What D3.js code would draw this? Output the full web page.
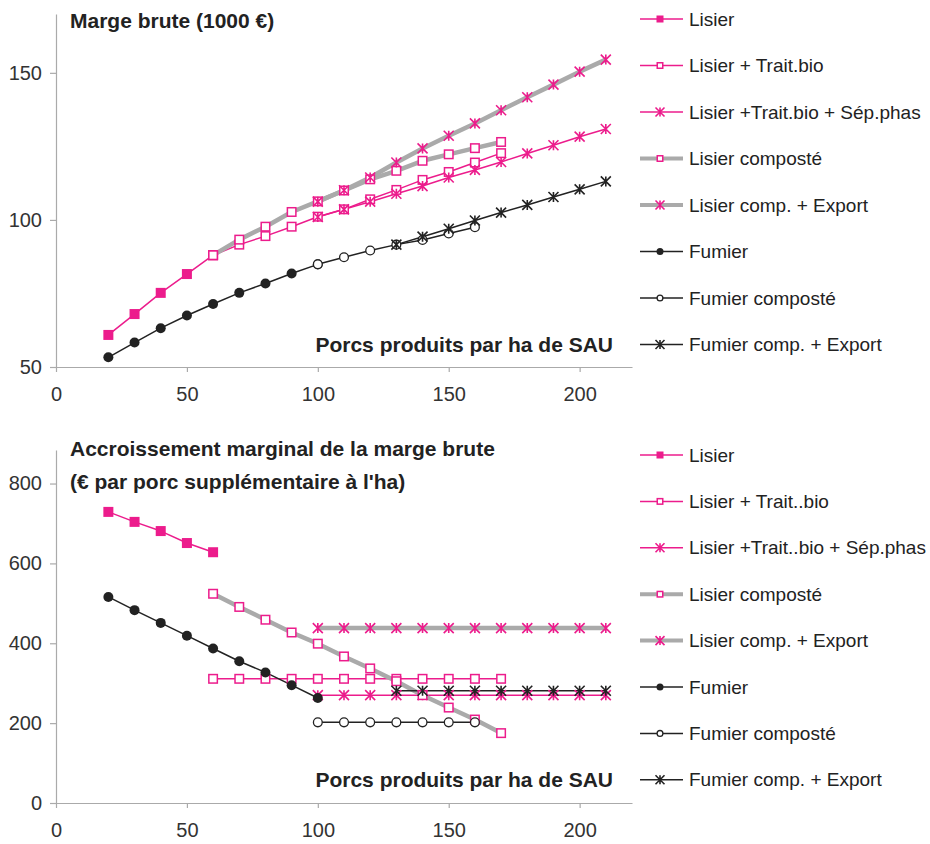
<!DOCTYPE html>
<html><head><meta charset="utf-8">
<script src="https://cdn.jsdelivr.net/npm/d3@7"></script>
<style>body{margin:0;background:#fff} svg{display:block} text{font-family:"Liberation Sans",Arial,sans-serif}</style>
</head><body><svg id="c" width="930" height="844"></svg>
<script>
// ---------- DATA ----------
const xTicks = [0, 50, 100, 150, 200];
const yTicksTop = [50, 100, 150];
const yTicksBottom = [0, 200, 400, 600, 800];

const legendTop = ["Lisier", "Lisier + Trait.bio", "Lisier +Trait.bio + Sép.phas", "Lisier composté",
  "Lisier comp. + Export", "Fumier", "Fumier composté", "Fumier comp. + Export"];
const legendBottom = ["Lisier", "Lisier + Trait..bio", "Lisier +Trait..bio + Sép.phas", "Lisier composté",
  "Lisier comp. + Export", "Fumier", "Fumier composté", "Fumier comp. + Export"];

const xLisier = [20, 30, 40, 50, 60];
const xTraitBio = [60, 70, 80, 90, 100, 110, 120, 130, 140, 150, 160, 170];
const xSepPhas = [100, 110, 120, 130, 140, 150, 160, 170, 180, 190, 200, 210];
const xComposte = [60, 70, 80, 90, 100, 110, 120, 130, 140, 150, 160, 170];
const xCompExport = [100, 110, 120, 130, 140, 150, 160, 170, 180, 190, 200, 210];
const xFumier = [20, 30, 40, 50, 60, 70, 80, 90, 100];
const xFumierComp = [100, 110, 120, 130, 140, 150, 160];
const xFumierExport = [130, 140, 150, 160, 170, 180, 190, 200, 210];

// Marge brute (1000 €)
const mbLisier = [60.9, 68.0, 75.2, 81.6, 88.0];
const mbTraitBio = [88.0, 91.6, 94.5, 97.7, 101.1, 103.6, 107.0, 110.2, 113.6, 116.3, 119.5, 122.7];
const mbSepPhas = [101.0, 103.6, 106.2, 108.9, 111.5, 114.4, 117.0, 119.7, 122.6, 125.4, 128.3, 130.9];
const mbComposte = [88.0, 93.3, 97.7, 102.7, 106.3, 110.0, 113.8, 116.7, 120.1, 122.3, 124.4, 126.5];
const mbCompExport = [106.2, 110.1, 114.4, 119.5, 124.3, 128.6, 132.8, 137.3, 141.7, 146.0, 150.4, 154.5];
const mbFumier = [53.3, 58.3, 63.2, 67.5, 71.4, 75.2, 78.4, 81.8, 84.9];
const mbFumierComp = [84.9, 87.3, 89.6, 91.6, 93.2, 95.4, 97.5];
const mbFumierExport = [91.6, 94.3, 97.0, 99.8, 102.5, 105.1, 107.8, 110.4, 113.1];

// Accroissement marginal (€ par porc supplémentaire à l'ha)
const amLisier = [729, 704, 681, 651, 628];
const amTraitBio = [311, 311, 311, 311, 311, 311, 311, 311, 311, 311, 311, 311];
const amSepPhas = [270, 270, 270, 270, 270, 270, 270, 270, 270, 270, 270, 270];
const amComposte = [524, 491, 459, 427, 399, 367, 337, 305, 270, 239, 209, 175];
const amCompExport = [438, 438, 438, 438, 438, 438, 438, 438, 438, 438, 438, 438];
const amFumier = [516, 483, 451, 419, 387, 355, 327, 295, 263];
const amFumierComp = [202, 202, 202, 202, 202, 202, 202];
const amFumierExport = [281, 281, 281, 281, 281, 281, 281, 281, 281];

// ---------- STYLE ----------
const MAG = "#ec1c8c", GRAY = "#aaaaaa", BLK = "#222222", AX = "#aaaaaa", TXT = "#222222";
const styles = [
  {line: MAG, w: 1.5, mk: "sq"},
  {line: MAG, w: 1.5, mk: "osq"},
  {line: MAG, w: 1.5, mk: "ast", mc: MAG},
  {line: GRAY, w: 4.5, mk: "osq"},
  {line: GRAY, w: 4.5, mk: "ast", mc: MAG},
  {line: BLK, w: 1.5, mk: "dot"},
  {line: BLK, w: 1.5, mk: "odot"},
  {line: BLK, w: 1.5, mk: "ast", mc: BLK}
];
const xsAll = [xLisier, xTraitBio, xSepPhas, xComposte, xCompExport, xFumier, xFumierComp, xFumierExport];

const svg = d3.select("#c");

function marker(g, type, cx, cy, s, col) {
  if (type === "sq") {
    g.append("rect").attr("x", cx - s/2).attr("y", cy - s/2).attr("width", s).attr("height", s).attr("fill", MAG);
  } else if (type === "osq") {
    g.append("rect").attr("x", cx - s/2 + 0.75).attr("y", cy - s/2 + 0.75).attr("width", s - 1.5).attr("height", s - 1.5)
      .attr("fill", "#fff").attr("stroke", MAG).attr("stroke-width", 1.5);
  } else if (type === "dot") {
    g.append("circle").attr("cx", cx).attr("cy", cy).attr("r", s/2).attr("fill", BLK);
  } else if (type === "odot") {
    g.append("circle").attr("cx", cx).attr("cy", cy).attr("r", s/2 - 0.6).attr("fill", "#fff").attr("stroke", BLK).attr("stroke-width", 1.3);
  } else if (type === "ast") {
    const h = s/2;
    const p = `M${cx-h},${cy-h}L${cx+h},${cy+h}M${cx-h},${cy+h}L${cx+h},${cy-h}M${cx},${cy-h}L${cx},${cy+h}`;
    g.append("path").attr("d", p).attr("stroke", col).attr("stroke-width", 1.6).attr("fill", "none");
  }
}

function panel(cfg) {
  const x = d3.scaleLinear().domain([0, 220]).range([56, 632]);
  const y = d3.scaleLinear().domain(cfg.yDomain).range(cfg.yRange);
  const g = svg.append("g");

  const xa = g.append("g").attr("transform", `translate(0,${cfg.yRange[0]})`)
    .call(d3.axisBottom(x).tickValues(xTicks).tickSize(5).tickPadding(15).tickSizeOuter(0));
  const ya = g.append("g").attr("transform", `translate(56,0)`)
    .call(d3.axisLeft(y).tickValues(cfg.yTicks).tickSize(6).tickPadding(8).tickSizeOuter(0));
  [xa, ya].forEach(a => {
    a.select(".domain").attr("stroke", AX).attr("stroke-width", 1.2);
    a.selectAll(".tick line").attr("stroke", AX).attr("stroke-width", 1.2);
    a.selectAll(".tick text").attr("fill", "#333").style("font-size", "20px").style("font-family", '"Liberation Sans",Arial,sans-serif');
  });

  // lines
  cfg.data.forEach((vals, i) => {
    const st = styles[i];
    const pts = xsAll[i].map((xv, j) => [x(xv), y(vals[j])]);
    g.append("path").attr("d", d3.line()(pts)).attr("fill", "none").attr("stroke", st.line).attr("stroke-width", st.w)
      .attr("stroke-linejoin", "round");
  });
  // markers
  cfg.data.forEach((vals, i) => {
    const st = styles[i];
    const mg = g.append("g");
    xsAll[i].forEach((xv, j) => {
      marker(mg, st.mk, x(xv), y(vals[j]), 10, st.mc);
    });
  });

  // titles
  cfg.titles.forEach(t => {
    g.append("text").attr("x", 70).attr("y", t.y).text(t.text)
      .attr("fill", TXT).style("font-size", "21px").style("font-weight", "bold");
  });
  g.append("text").attr("x", 613).attr("y", cfg.xlabY).attr("text-anchor", "end").text("Porcs produits par ha de SAU")
    .attr("fill", TXT).style("font-size", "21px").style("font-weight", "bold");

  // legend
  cfg.legend.forEach((name, i) => {
    const st = styles[i];
    const ly = cfg.legY0 + i * cfg.legStep;
    g.append("line").attr("x1", 640).attr("x2", 683).attr("y1", ly).attr("y2", ly)
      .attr("stroke", st.line).attr("stroke-width", st.w === 1.5 ? 1.5 : 4);
    marker(g, st.mk, 660, ly, st.mk === "ast" ? 9 : 7, st.mc);
    g.append("text").attr("x", 689).attr("y", ly).attr("dy", "0.35em").text(name)
      .attr("fill", TXT).style("font-size", "19px");
  });
}

panel({
  yDomain: [50, 170], yRange: [367, 14], yTicks: yTicksTop,
  data: [mbLisier, mbTraitBio, mbSepPhas, mbComposte, mbCompExport, mbFumier, mbFumierComp, mbFumierExport],
  titles: [{text: "Marge brute (1000 €)", y: 28}],
  xlabY: 352, legend: legendTop, legY0: 19, legStep: 46.5
});
panel({
  yDomain: [0, 884], yRange: [803, 450], yTicks: yTicksBottom,
  data: [amLisier, amTraitBio, amSepPhas, amComposte, amCompExport, amFumier, amFumierComp, amFumierExport],
  titles: [{text: "Accroissement marginal de la marge brute", y: 456}, {text: "(€ par porc supplémentaire à l'ha)", y: 489}],
  xlabY: 787, legend: legendBottom, legY0: 455, legStep: 46.4
});
</script>
</body></html>
